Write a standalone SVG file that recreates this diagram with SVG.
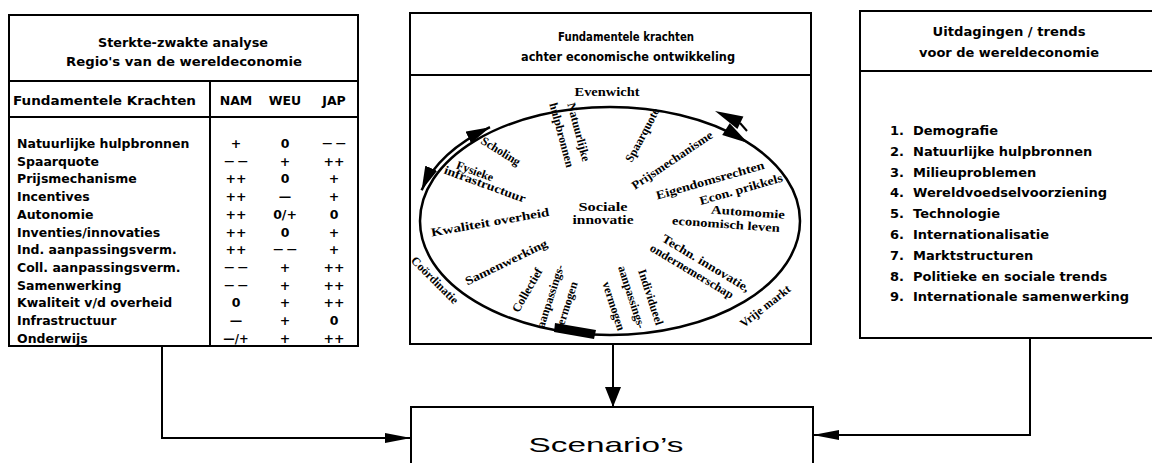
<svg xmlns="http://www.w3.org/2000/svg" width="1152" height="463" viewBox="0 0 1152 463">
<style>
.box{fill:none;stroke:#000;stroke-width:2}
.ln{stroke:#000;stroke-width:2}
.t{font-family:"DejaVu Sans","Liberation Sans",sans-serif;font-weight:bold;fill:#000}
.tt{font-size:12px;text-anchor:middle}
.row{font-size:12.5px}
.v{font-size:12.5px;text-anchor:middle}
.dd{font-size:10px}
.li{font-size:13px}
.s{font-family:"Liberation Serif","Times New Roman",serif;font-weight:bold;font-size:12px;text-anchor:middle;fill:#000}
.conn{fill:none;stroke:#000;stroke-width:2}
.arc{fill:none;stroke:#000;stroke-width:2.5}
</style>
<defs>
<marker id="ahH" markerUnits="userSpaceOnUse" viewBox="0 0 26 10" markerWidth="26" markerHeight="10" refX="26" refY="5" orient="auto"><path d="M0,0 L26,5 L0,10 z" fill="#000"/></marker>
<marker id="ahV" markerUnits="userSpaceOnUse" viewBox="0 0 20 16" markerWidth="20" markerHeight="16" refX="20" refY="8" orient="auto"><path d="M0,0 L20,8 L0,16 z" fill="#000"/></marker>
<marker id="ahC" markerUnits="userSpaceOnUse" viewBox="0 0 24 13" markerWidth="24" markerHeight="13" refX="24" refY="6.5" orient="auto-start-reverse"><path d="M0,0 L24,6.5 L0,13 z" fill="#000"/></marker>
</defs>
<rect width="1152" height="463" fill="#fff"/>

<g id="node-sterkte-zwakte">
<rect class="box" x="9" y="15" width="349" height="331"/>
<line class="ln" x1="9" y1="81" x2="358" y2="81"/>
<line class="ln" x1="9" y1="117" x2="358" y2="117"/>
<line class="ln" x1="210" y1="81" x2="210" y2="346"/>
<text class="t tt" x="183" y="47" textLength="170" lengthAdjust="spacingAndGlyphs">Sterkte-zwakte analyse</text>
<text class="t tt" x="184" y="66" textLength="236" lengthAdjust="spacingAndGlyphs">Regio's van de wereldeconomie</text>
<text class="t row" x="13" y="105" textLength="183" lengthAdjust="spacingAndGlyphs">Fundamentele Krachten</text>
<text class="t v" x="236" y="105">NAM</text>
<text class="t v" x="285" y="105">WEU</text>
<text class="t v" x="334" y="105">JAP</text>
<g class="t row">
<text x="17" y="148">Natuurlijke hulpbronnen</text>
<text x="17" y="165.7">Spaarquote</text>
<text x="17" y="183.4">Prijsmechanisme</text>
<text x="17" y="201.1">Incentives</text>
<text x="17" y="218.8">Autonomie</text>
<text x="17" y="236.5">Inventies/innovaties</text>
<text x="17" y="254.2">Ind. aanpassingsverm.</text>
<text x="17" y="271.9">Coll. aanpassingsverm.</text>
<text x="17" y="289.6">Samenwerking</text>
<text x="17" y="307.3">Kwaliteit v/d overheid</text>
<text x="17" y="325">Infrastructuur</text>
<text x="17" y="342.7">Onderwijs</text>
</g>
<g class="t v">
<text x="236" y="148">+</text><text x="285" y="148">0</text><text class="dd" x="334" y="147">— —</text>
<text class="dd" x="236" y="164.7">— —</text><text x="285" y="165.7">+</text><text x="334" y="165.7">++</text>
<text x="236" y="183.4">++</text><text x="285" y="183.4">0</text><text x="334" y="183.4">+</text>
<text x="236" y="201.1">++</text><text x="285" y="201.1">—</text><text x="334" y="201.1">+</text>
<text x="236" y="218.8">++</text><text x="285" y="218.8">0/+</text><text x="334" y="218.8">0</text>
<text x="236" y="236.5">++</text><text x="285" y="236.5">0</text><text x="334" y="236.5">+</text>
<text x="236" y="254.2">++</text><text class="dd" x="285" y="253.2">— —</text><text x="334" y="254.2">+</text>
<text class="dd" x="236" y="270.9">— —</text><text x="285" y="271.9">+</text><text x="334" y="271.9">++</text>
<text class="dd" x="236" y="288.6">— —</text><text x="285" y="289.6">+</text><text x="334" y="289.6">++</text>
<text x="236" y="307.3">0</text><text x="285" y="307.3">+</text><text x="334" y="307.3">++</text>
<text x="236" y="325">—</text><text x="285" y="325">+</text><text x="334" y="325">0</text>
<text x="236" y="342.7" font-size="11.5">—/+</text><text x="285" y="342.7">+</text><text x="334" y="342.7">++</text>
</g>
</g>

<g id="node-fundamentele-krachten">
<rect class="box" x="410" y="13" width="401" height="331"/>
<line class="ln" x1="410" y1="75" x2="811" y2="75"/>
<text class="t tt" x="626" y="41" font-size="11.5" textLength="136" lengthAdjust="spacingAndGlyphs">Fundamentele krachten</text>
<text class="t tt" x="628" y="61" font-size="11.5" textLength="214" lengthAdjust="spacingAndGlyphs">achter economische ontwikkeling</text>
<ellipse class="arc" cx="610" cy="221" rx="190" ry="114"/>
<path class="arc" d="M421.6,190.2 A195,119 0 0 1 490,127.2" marker-start="url(#ahC)" marker-end="url(#ahC)"/>
<polygon points="715,111 743.4,116.5 737.4,129.1" fill="#000"/>
<line class="ln" x1="740" y1="123" x2="747" y2="131" stroke-width="3"/>
<polygon points="748,143 722.2,135.1 729.7,123.3" fill="#000"/>
<polygon points="555,323 596,330 594,339 554,332" fill="#000"/>
<text class="s" x="607" y="96" font-size="12.5" textLength="65" lengthAdjust="spacingAndGlyphs">Evenwicht</text>
<text class="s" transform="translate(579,132) rotate(75)" dy="0.35em" font-size="11.5">Natuurlijke</text>
<text class="s" transform="translate(562,135) rotate(75)" dy="0.35em" font-size="11.5">hulpbronnen</text>
<text class="s" transform="translate(642,135) rotate(-62)" dy="0.35em" font-size="11.5">Spaarquote</text>
<text class="s" transform="translate(672,160) rotate(-34)" dy="0.35em" textLength="95" lengthAdjust="spacingAndGlyphs">Prijsmechanisme</text>
<text class="s" transform="translate(710,180) rotate(-16)" dy="0.35em" font-size="12.5" textLength="112" lengthAdjust="spacingAndGlyphs">Eigendomsrechten</text>
<text class="s" transform="translate(741,189) rotate(-16)" dy="0.35em" font-size="12.5" textLength="86" lengthAdjust="spacingAndGlyphs">Econ. prikkels</text>
<text class="s" transform="translate(748,212) rotate(4)" dy="0.35em" font-size="12.5" textLength="74" lengthAdjust="spacingAndGlyphs">Automomie</text>
<text class="s" transform="translate(726,224) rotate(4)" dy="0.35em" font-size="12.5" textLength="108" lengthAdjust="spacingAndGlyphs">economisch leven</text>
<text class="s" transform="translate(706,263) rotate(31)" dy="0.35em" textLength="100" lengthAdjust="spacingAndGlyphs">Techn. innovatie,</text>
<text class="s" transform="translate(692,271) rotate(31)" dy="0.35em" textLength="95" lengthAdjust="spacingAndGlyphs">ondernemerschap</text>
<text class="s" transform="translate(765,306) rotate(-38)" dy="0.35em" font-size="12.5">Vrije markt</text>
<text class="s" transform="translate(651,297) rotate(72)" dy="0.35em" font-size="11">Individueel</text>
<text class="s" transform="translate(632,297) rotate(72)" dy="0.35em" font-size="11">aanpassings-</text>
<text class="s" transform="translate(614,306) rotate(72)" dy="0.35em" font-size="11">vermogen</text>
<text class="s" transform="translate(527,290) rotate(-60)" dy="0.35em" font-size="11.5">Collectief</text>
<text class="s" transform="translate(550,296) rotate(-72)" dy="0.35em" font-size="11">aanpassings-</text>
<text class="s" transform="translate(566,306) rotate(-72)" dy="0.35em" font-size="11">vermogen</text>
<text class="s" transform="translate(506,262) rotate(-26)" dy="0.35em" textLength="90" lengthAdjust="spacingAndGlyphs">Samenwerking</text>
<text class="s" transform="translate(435,280) rotate(45)" dy="0.35em" font-size="12.5">Coördinatie</text>
<text class="s" transform="translate(490,222) rotate(-10)" dy="0.35em" font-size="12.5" textLength="120" lengthAdjust="spacingAndGlyphs">Kwaliteit overheid</text>
<text class="s" x="603" y="211" font-size="13" textLength="49" lengthAdjust="spacingAndGlyphs">Sociale</text>
<text class="s" x="603" y="224" font-size="13" textLength="61" lengthAdjust="spacingAndGlyphs">innovatie</text>
<text class="s" transform="translate(475,171) rotate(20)" dy="0.35em" font-size="12.5">Fysieke</text>
<text class="s" transform="translate(485,184) rotate(20)" dy="0.35em" textLength="86" lengthAdjust="spacingAndGlyphs">infrastructuur</text>
<text class="s" transform="translate(501,151) rotate(32)" dy="0.35em" font-size="12.5">Scholing</text>
</g>

<g id="node-uitdagingen">
<rect class="box" x="860" y="11" width="300" height="327"/>
<line class="ln" x1="860" y1="71" x2="1160" y2="71"/>
<text class="t tt" x="1009" y="36" textLength="153" lengthAdjust="spacingAndGlyphs">Uitdagingen / trends</text>
<text class="t tt" x="1009" y="57" textLength="180" lengthAdjust="spacingAndGlyphs">voor de wereldeconomie</text>
<g class="t li">
<text x="890" y="135">1.</text><text x="913" y="135">Demografie</text>
<text x="890" y="155.8">2.</text><text x="913" y="155.8">Natuurlijke hulpbronnen</text>
<text x="890" y="176.6">3.</text><text x="913" y="176.6">Milieuproblemen</text>
<text x="890" y="197.4">4.</text><text x="913" y="197.4">Wereldvoedselvoorziening</text>
<text x="890" y="218.2">5.</text><text x="913" y="218.2">Technologie</text>
<text x="890" y="239">6.</text><text x="913" y="239">Internationalisatie</text>
<text x="890" y="259.8">7.</text><text x="913" y="259.8">Marktstructuren</text>
<text x="890" y="280.6">8.</text><text x="913" y="280.6">Politieke en sociale trends</text>
<text x="890" y="301.4">9.</text><text x="913" y="301.4">Internationale samenwerking</text>
</g>
</g>

<g id="node-scenarios">
<rect class="box" x="411" y="407" width="402" height="70"/>
<text x="606" y="452" font-family="Liberation Sans,Arial,sans-serif" font-size="21" text-anchor="middle" textLength="155" lengthAdjust="spacingAndGlyphs">Scenario’s</text>
</g>

<g id="connectors">
<path class="conn" d="M162,346 V438 H411" marker-end="url(#ahH)"/>
<path class="conn" d="M613,344 V407" marker-end="url(#ahV)"/>
<path class="conn" d="M1030,338 V435 H813" marker-end="url(#ahH)"/>
</g>
</svg>
